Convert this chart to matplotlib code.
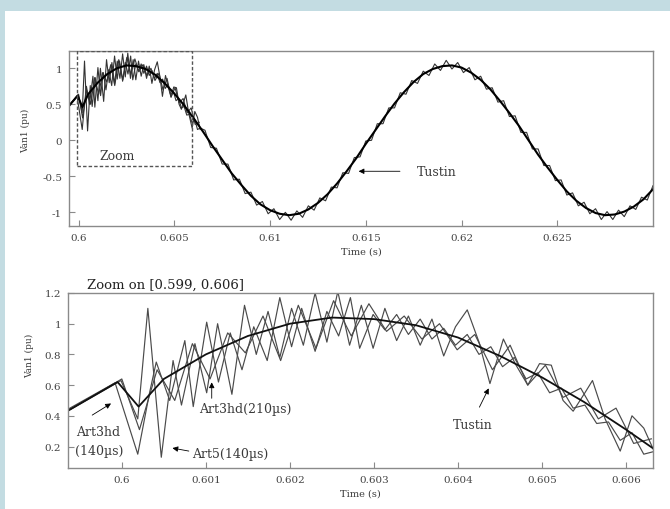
import matplotlib
matplotlib.use("Agg")
import matplotlib.pyplot as plt
from matplotlib.patches import Rectangle

# ---------------- data ----------------
tustin_t = [0.59935, 0.59995, 0.6002, 0.6005, 0.6010, 0.6015, 0.6020, 0.6025, 0.6030,
            0.6035, 0.6040, 0.6045, 0.6050, 0.6055, 0.6060, 0.6065, 0.6070, 0.6075,
            0.6080, 0.6085, 0.6090, 0.6095, 0.6100, 0.6105, 0.6110, 0.6115, 0.6120,
            0.6125, 0.6130, 0.6135, 0.6140, 0.6145, 0.6150, 0.6155, 0.6160, 0.6165,
            0.6170, 0.6175, 0.6180, 0.6185, 0.6190, 0.6195, 0.6200, 0.6205, 0.6210,
            0.6215, 0.6220, 0.6225, 0.6230, 0.6235, 0.6240, 0.6245, 0.6250, 0.6255,
            0.6260, 0.6265, 0.6270, 0.6275, 0.6280, 0.6285, 0.6290, 0.6295, 0.6300]
tustin_v = [0.43, 0.62, 0.46, 0.64, 0.80, 0.92, 1.00, 1.04, 1.03,
            0.99, 0.91, 0.79, 0.65, 0.49, 0.31, 0.12, -0.08, -0.27,
            -0.46, -0.62, -0.77, -0.89, -0.97, -1.02, -1.04, -1.02, -0.96,
            -0.87, -0.75, -0.60, -0.43, -0.25, -0.05, 0.14, 0.33, 0.51,
            0.67, 0.81, 0.92, 0.99, 1.03, 1.04, 1.01, 0.94, 0.84,
            0.71, 0.55, 0.38, 0.20, 0.00, -0.20, -0.38, -0.55, -0.71,
            -0.84, -0.94, -1.01, -1.04, -1.03, -0.99, -0.92, -0.82, -0.68]

art5_140_t = [0.59935, 0.59999, 0.60019, 0.60031, 0.60047, 0.60061, 0.60071, 0.60087,
              0.60101, 0.60114, 0.60131, 0.60146, 0.60160, 0.60174, 0.60188, 0.60202,
              0.60216, 0.60230, 0.60244, 0.60257, 0.60271, 0.60285, 0.60299, 0.60313,
              0.60327, 0.60341, 0.60355, 0.60369, 0.60383, 0.60397, 0.60411, 0.60425,
              0.60438, 0.60454, 0.60468, 0.60483, 0.60497, 0.60511, 0.60525, 0.60537,
              0.60551, 0.60560, 0.60575, 0.60593, 0.60607, 0.60621, 0.60635]
art5_140_v = [0.43, 0.63, 0.38, 1.10, 0.13, 0.76, 0.47, 0.87,
              0.55, 1.00, 0.54, 1.12, 0.80, 1.08, 0.78, 1.10,
              0.86, 1.20, 0.88, 1.21, 0.86, 1.12, 0.84, 1.10,
              0.89, 1.05, 0.86, 1.03, 0.79, 0.98, 1.09, 0.88,
              0.61, 0.90, 0.74, 0.60, 0.74, 0.73, 0.50, 0.43,
              0.55, 0.63, 0.38, 0.17, 0.40, 0.32, 0.15]

art3hd_140_t = [0.59935, 0.59992, 0.60019, 0.60033, 0.60041, 0.60057, 0.60075, 0.60085,
                0.60101, 0.60115, 0.60129, 0.60143, 0.60157, 0.60173, 0.60188, 0.60202,
                0.60214, 0.60230, 0.60244, 0.60258, 0.60272, 0.60283, 0.60299, 0.60313,
                0.60327, 0.60341, 0.60355, 0.60369, 0.60383, 0.60397, 0.60411, 0.60425,
                0.60439, 0.60453, 0.60467, 0.60481, 0.60495, 0.60509, 0.60523, 0.60537,
                0.60551, 0.60565, 0.60579, 0.60593, 0.60607, 0.60621, 0.60635,
                0.6066, 0.6069, 0.6072, 0.6075, 0.6078, 0.6081, 0.6084, 0.6087, 0.6090,
                0.6093, 0.6096, 0.6099, 0.6102, 0.6105, 0.6108, 0.6111, 0.6114, 0.6117,
                0.6120, 0.6123, 0.6126, 0.6129, 0.6132, 0.6135, 0.6138, 0.6141, 0.6144,
                0.6147, 0.6150, 0.6153, 0.6156, 0.6159, 0.6162, 0.6165, 0.6168, 0.6171,
                0.6174, 0.6177, 0.6180, 0.6183, 0.6186, 0.6189, 0.6192, 0.6195, 0.6198,
                0.6201, 0.6204, 0.6207, 0.6210, 0.6213, 0.6216, 0.6219, 0.6222, 0.6225,
                0.6228, 0.6231, 0.6234, 0.6237, 0.6240, 0.6243, 0.6246, 0.6249, 0.6252,
                0.6255, 0.6258, 0.6261, 0.6264, 0.6267, 0.6270, 0.6273, 0.6276, 0.6279,
                0.6282, 0.6285, 0.6288, 0.6291, 0.6294, 0.6297, 0.6300]
art3hd_140_v = [0.44, 0.615, 0.15, 0.55, 0.75, 0.50, 0.89, 0.46,
                1.01, 0.62, 0.94, 0.70, 0.98, 0.76, 1.17, 0.85,
                1.10, 0.82, 1.08, 0.92, 1.17, 0.84, 1.06, 0.96,
                1.06, 0.93, 1.03, 0.90, 0.97, 0.86, 0.93, 0.80,
                0.85, 0.72, 0.78, 0.64, 0.68, 0.55, 0.58, 0.45,
                0.47, 0.35, 0.36, 0.24, 0.29, 0.15, 0.17,
                0.14, -0.10, -0.11, -0.33, -0.33, -0.55, -0.54, -0.74, -0.72,
                -0.90, -0.85, -1.02, -0.95, -1.10, -1.00, -1.11, -0.98, -1.07,
                -0.91, -0.97, -0.80, -0.84, -0.65, -0.66, -0.45, -0.46, -0.24,
                -0.23, -0.01, 0.00, 0.23, 0.23, 0.45, 0.45, 0.66, 0.64,
                0.83, 0.79, 0.96, 0.90, 1.06, 0.97, 1.11, 0.99, 1.08,
                0.94, 1.01, 0.84, 0.89, 0.71, 0.73, 0.53, 0.55, 0.33,
                0.34, 0.11, 0.11, -0.12, -0.12, -0.35, -0.35, -0.56, -0.55,
                -0.76, -0.73, -0.91, -0.86, -1.02, -0.95, -1.10, -0.99, -1.10,
                -0.97, -1.06, -0.91, -0.96, -0.79, -0.83, -0.63]

art3hd_210_t = [0.59935, 0.60000, 0.60021, 0.60042, 0.60063, 0.60084, 0.60105, 0.60126,
                0.60147, 0.60168, 0.60189, 0.60210, 0.60231, 0.60252, 0.60273, 0.60294,
                0.60315, 0.60336, 0.60357, 0.60378, 0.60399, 0.60420, 0.60441, 0.60462,
                0.60483, 0.60504, 0.60525, 0.60546, 0.60567, 0.60588, 0.60609, 0.60630]
art3hd_210_v = [0.43, 0.64, 0.31, 0.70, 0.50, 0.87, 0.64, 0.94,
                0.81, 1.05, 0.76, 1.12, 0.84, 1.15, 0.92, 1.13,
                0.95, 1.05, 0.90, 1.00, 0.83, 0.93, 0.70, 0.86,
                0.60, 0.73, 0.52, 0.58, 0.38, 0.45, 0.22, 0.25]

top_xticks = [0.6, 0.605, 0.61, 0.615, 0.62, 0.625]
top_xticklabels = ['0.6', '0.605', '0.61', '0.615', '0.62', '0.625']
top_yticks = [-1, -0.5, 0, 0.5, 1]
top_yticklabels = ['-1', '-0.5', '0', '0.5', '1']
bot_xticks = [0.6, 0.601, 0.602, 0.603, 0.604, 0.605, 0.606]
bot_xticklabels = ['0.6', '0.601', '0.602', '0.603', '0.604', '0.605', '0.606']
bot_yticks = [0.2, 0.4, 0.6, 0.8, 1.0, 1.2]
bot_yticklabels = ['0.2', '0.4', '0.6', '0.8', '1', '1.2']

# ---------------- figure ----------------
FONT = 'DejaVu Serif'
TXT = '#3a3a3a'
W, H = 670, 510
fig = plt.figure(figsize=(6.7, 5.1), dpi=100)
fig.patch.set_facecolor('#c3dce2')
bg = Rectangle((5 / W, 0), 1 - 5 / W, 1 - 12 / H, transform=fig.transFigure,
               facecolor='white', edgecolor='none', zorder=-10)
fig.add_artist(bg)

ax1 = fig.add_axes([69 / W, 1 - 227 / H, (653 - 69) / W, (227 - 52) / H])
ax2 = fig.add_axes([68 / W, 1 - 469 / H, (653 - 68) / W, (469 - 294) / H])


def style(ax):
    ax.set_facecolor('white')
    for s in ax.spines.values():
        s.set_color('#8a8a8a')
        s.set_linewidth(1.0)
    ax.tick_params(direction='in', length=4, width=0.8, color='#8a8a8a',
                   labelsize=7.5, labelcolor='#444444', pad=5)
    for lab in ax.get_xticklabels() + ax.get_yticklabels():
        lab.set_fontfamily(FONT)


series = [(art5_140_t, art5_140_v), (art3hd_140_t, art3hd_140_v), (art3hd_210_t, art3hd_210_v)]

# ---- top axes ----
for t, v in series:
    ax1.plot(t, v, color='#333333', lw=0.8)
ax1.plot(tustin_t, tustin_v, color='black', lw=1.5)
ax1.set_xlim(0.5995, 0.63)
ax1.set_ylim(-1.19, 1.24)
ax1.set_xticks(top_xticks)
ax1.set_xticklabels(top_xticklabels)
ax1.set_yticks(top_yticks)
ax1.set_yticklabels(top_yticklabels)
style(ax1)
ax1.set_xlabel('Time (s)', fontfamily=FONT, fontsize=7, color=TXT, labelpad=3)
ax1.set_ylabel('Van1 (pu)', fontfamily=FONT, fontsize=6.5, color=TXT)
ax1.yaxis.set_label_coords(-0.067, 0.55)

ax1.add_patch(Rectangle((0.5999, -0.35), 0.0060, 1.585, fill=False, edgecolor='#555555',
                        lw=1.0, linestyle=(0, (2.5, 1.5)), zorder=3))
ax1.text(0.6020, -0.21, 'Zoom', fontfamily=FONT, fontsize=9, color=TXT, ha='center', va='center')
ax1.annotate('', xy=(0.61448, -0.43), xytext=(0.61693, -0.43),
             arrowprops=dict(arrowstyle='-|>', color='black', lw=0.6, mutation_scale=8))
ax1.text(0.61766, -0.43, 'Tustin', fontfamily=FONT, fontsize=9, color=TXT, ha='left', va='center')

# ---- bottom axes ----
for t, v in series:
    ax2.plot(t, v, color='#4a4a4a', lw=0.85)
ax2.plot(tustin_t, tustin_v, color='#111111', lw=1.3)
ax2.set_xlim(0.59936, 0.60632)
ax2.set_ylim(0.06, 1.2)
ax2.set_xticks(bot_xticks)
ax2.set_xticklabels(bot_xticklabels)
ax2.set_yticks(bot_yticks)
ax2.set_yticklabels(bot_yticklabels)
style(ax2)
ax2.set_xlabel('Time (s)', fontfamily=FONT, fontsize=7, color=TXT, labelpad=3)
ax2.set_ylabel('Van1 (pu)', fontfamily=FONT, fontsize=6.5, color=TXT)
ax2.yaxis.set_label_coords(-0.058, 0.646)
ax2.text(0.032, 1.01, 'Zoom on [0.599, 0.606]', transform=ax2.transAxes, fontfamily=FONT,
         fontsize=9.5, color='#222222', ha='left', va='bottom')

ap = dict(arrowstyle='-|>', color='black', lw=0.6, mutation_scale=8)
ax2.annotate('', xy=(0.59990, 0.49), xytext=(0.59962, 0.395), arrowprops=ap)
ax2.text(0.59946, 0.30, 'Art3hd', fontfamily=FONT, fontsize=9, color=TXT, ha='left', va='center')
ax2.text(0.59944, 0.175, '(140µs)', fontfamily=FONT, fontsize=9, color=TXT, ha='left', va='center')
ax2.annotate('', xy=(0.60057, 0.193), xytext=(0.60083, 0.167), arrowprops=ap)
ax2.text(0.60084, 0.155, 'Art5(140µs)', fontfamily=FONT, fontsize=9, color=TXT, ha='left', va='center')
ax2.annotate('', xy=(0.60107, 0.636), xytext=(0.60107, 0.496), arrowprops=ap)
ax2.text(0.60092, 0.45, 'Art3hd(210µs)', fontfamily=FONT, fontsize=9, color=TXT, ha='left', va='center')
ax2.annotate('', xy=(0.60438, 0.595), xytext=(0.60424, 0.44), arrowprops=ap)
ax2.text(0.60417, 0.345, 'Tustin', fontfamily=FONT, fontsize=9, color=TXT, ha='center', va='center')

fig.savefig('out.png', dpi=100, facecolor=fig.get_facecolor())
